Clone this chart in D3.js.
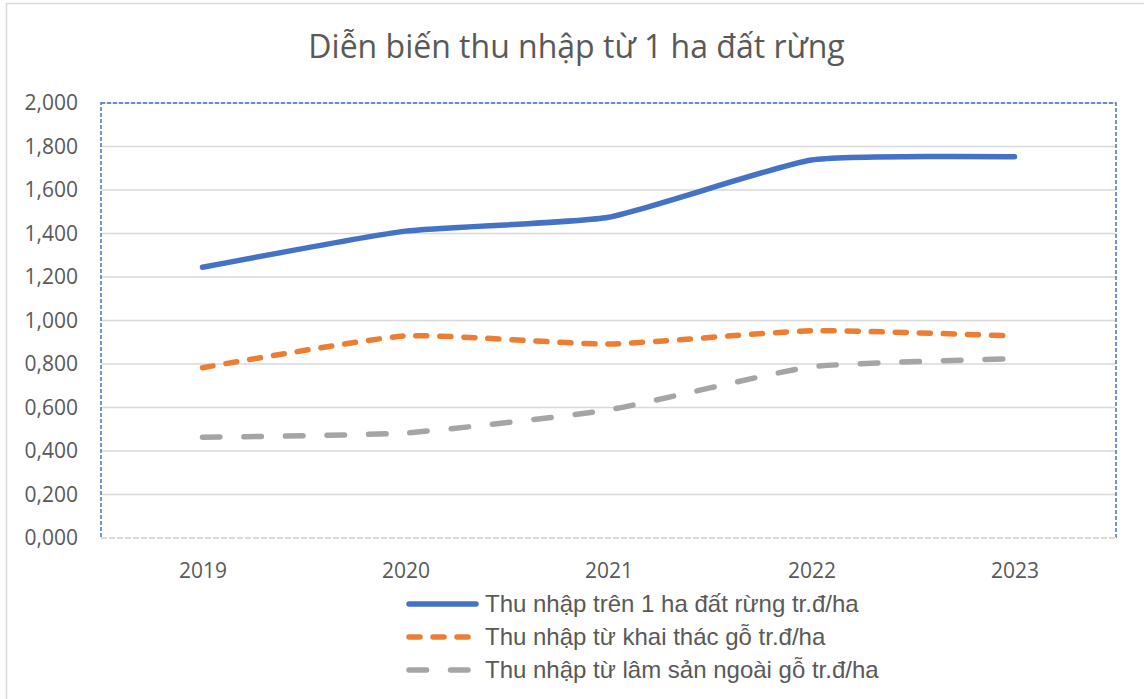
<!DOCTYPE html>
<html>
<head>
<meta charset="utf-8">
<script src="https://cdn.jsdelivr.net/npm/d3@7"></script>
<style>
  body { margin: 0; background: #fff; }
  svg { display: block; }
</style>
</head>
<body>
<div id="chart"></div>
<script>
// data
var years = ["2019", "2020", "2021", "2022", "2023"];
var seriesNames = [
    "Thu nhập trên 1 ha đất rừng tr.đ/ha",
    "Thu nhập từ khai thác gỗ tr.đ/ha",
    "Thu nhập từ lâm sản ngoài gỗ tr.đ/ha"
];
var totalIncome = [1.245, 1.411, 1.475, 1.738, 1.753];
var timberIncome = [0.783, 0.929, 0.892, 0.953, 0.929];
var nonTimberIncome = [0.463, 0.483, 0.589, 0.787, 0.824];
var yTicks = [0, 0.2, 0.4, 0.6, 0.8, 1.0, 1.2, 1.4, 1.6, 1.8, 2.0];

var W = 1144, H = 699;
var plot = {left: 101, top: 103, right: 1116, bottom: 538};

var styles = [
    {color: "#4472C4", dash: null},
    {color: "#ED7D31", dash: "11,13"},
    {color: "#A5A5A5", dash: "17.5,24"}
];
var seriesData = [totalIncome, timberIncome, nonTimberIncome];

var svg = d3.select("#chart").append("svg")
    .attr("width", W)
    .attr("height", H);

// outer chart border
svg.append("rect")
    .attr("x", 6.5).attr("y", 3.5)
    .attr("width", W).attr("height", H)
    .attr("fill", "#fff")
    .attr("stroke", "#D9D9D9")
    .attr("stroke-width", 1.5);

// title
svg.append("text")
    .attr("x", 576.5)
    .attr("y", 58)
    .attr("text-anchor", "middle")
    .style("font-family", "'Open Sans', sans-serif")
    .style("font-size", "32px")
    .style("fill", "#595959")
    .text("Diễn biến thu nhập từ 1 ha đất rừng");

var x = d3.scalePoint()
    .domain(years)
    .range([plot.left, plot.right])
    .padding(0.5);

var y = d3.scaleLinear()
    .domain([0, 2])
    .range([plot.bottom, plot.top]);

// gridlines
svg.append("g")
    .selectAll("line")
    .data(yTicks.filter(function (d) { return d > 0; }))
    .enter().append("line")
    .attr("x1", plot.left).attr("x2", plot.right)
    .attr("y1", function (d) { return y(d); })
    .attr("y2", function (d) { return y(d); })
    .attr("stroke", "#D9D9D9")
    .attr("stroke-width", 1.5);

// plot area border (dashed blue)
svg.append("rect")
    .attr("x", plot.left).attr("y", plot.top)
    .attr("width", plot.right - plot.left)
    .attr("height", plot.bottom - plot.top)
    .attr("fill", "none")
    .attr("stroke", "#4472C4")
    .attr("stroke-width", 1.5)
    .attr("stroke-dasharray", "4,2");

// x axis line
svg.append("line")
    .attr("x1", plot.left).attr("x2", plot.right)
    .attr("y1", plot.bottom).attr("y2", plot.bottom)
    .attr("stroke", "#fff")
    .attr("stroke-width", 2);
svg.append("line")
    .attr("x1", plot.left).attr("x2", plot.right)
    .attr("y1", plot.bottom).attr("y2", plot.bottom)
    .attr("stroke", "#D0D0D0")
    .attr("stroke-width", 1.5)
    .attr("stroke-dasharray", "6,2");

// y axis labels
var yAxis = svg.append("g")
    .attr("transform", "translate(" + (plot.left - 23) + ",0)")
    .call(d3.axisLeft(y).tickValues(yTicks).tickSize(0)
        .tickFormat(function (d) { return d3.format(".3f")(d).replace(".", ","); }));
yAxis.select(".domain").remove();
yAxis.selectAll("text")
    .attr("x", 0)
    .style("font-family", "'Open Sans', sans-serif")
    .style("font-size", "21px")
    .style("fill", "#595959");

// x axis labels
var xAxis = svg.append("g")
    .attr("transform", "translate(0," + plot.bottom + ")")
    .call(d3.axisBottom(x).tickSize(0));
xAxis.select(".domain").remove();
xAxis.selectAll("text")
    .attr("y", 25)
    .style("font-family", "'Open Sans', sans-serif")
    .style("font-size", "21px")
    .style("fill", "#595959");

// lines (Excel-like light smoothing)
var line = d3.line()
    .x(function (d, i) { return x(years[i]); })
    .y(function (d) { return y(d); })
    .curve(d3.curveCardinal.tension(0.5));

seriesData.forEach(function (vals, k) {
    svg.append("path")
        .datum(vals)
        .attr("d", line)
        .attr("fill", "none")
        .attr("stroke", styles[k].color)
        .attr("stroke-width", 5.5)
        .attr("stroke-linecap", "round")
        .attr("stroke-linejoin", "round")
        .attr("stroke-dasharray", styles[k].dash);
});

// legend
var legend = svg.append("g");
seriesNames.forEach(function (name, k) {
    var ly = 604 + k * 33;
    legend.append("line")
        .attr("x1", 409).attr("x2", 476)
        .attr("y1", ly).attr("y2", ly)
        .attr("stroke", styles[k].color)
        .attr("stroke-width", 5.5)
        .attr("stroke-linecap", "round")
        .attr("stroke-dasharray", styles[k].dash);
    legend.append("text")
        .attr("x", 485)
        .attr("y", ly)
        .attr("dy", "0.35em")
        .style("font-family", "'Liberation Sans', Arial, sans-serif")
        .style("font-size", "24px")
        .style("fill", "#595959")
        .text(name);
});
</script>
</body>
</html>
